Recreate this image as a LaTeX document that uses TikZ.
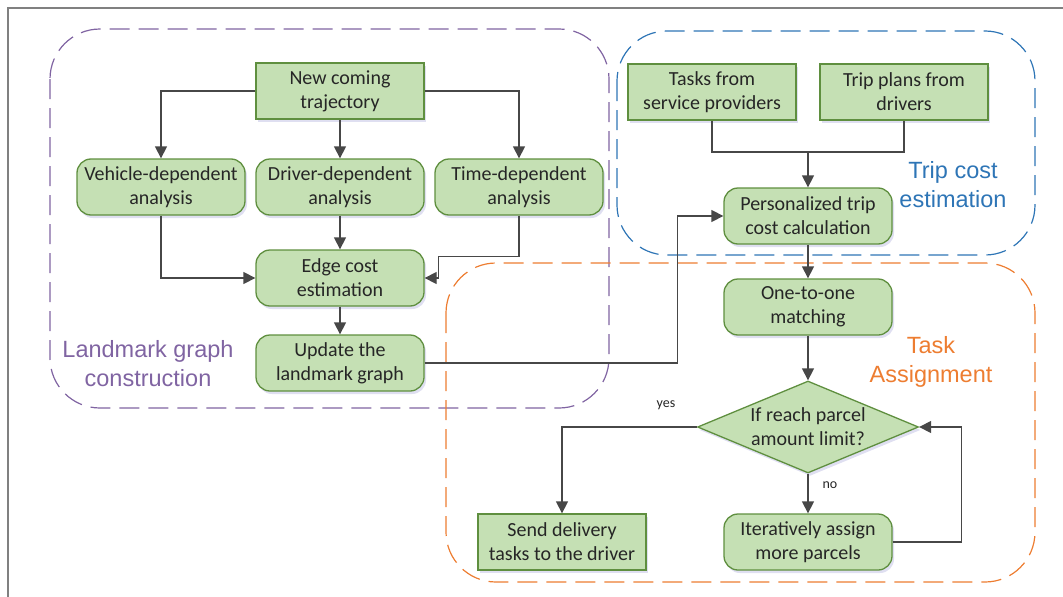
\documentclass[tikz,border=0pt]{standalone}
\usepackage{fontspec}
\setmainfont{Carlito}
\newfontfamily\grpfont{Liberation Sans}
\usepackage{tikz}
\usetikzlibrary{arrows.meta,shapes.geometric,shadows}
\definecolor{boxfill}{HTML}{C5E0B4}
\definecolor{boxline}{HTML}{5F8F3F}
\definecolor{arrgray}{HTML}{474747}
\definecolor{grppurple}{HTML}{8064A2}
\definecolor{grpblue}{HTML}{2E75B6}
\definecolor{grporange}{HTML}{ED7D31}

\begin{document}
\begin{tikzpicture}[
  x=1pt,y=-1pt,
  font=\fontsize{20}{24}\selectfont,
  shade/.style={drop shadow={shadow xshift=2pt,shadow yshift=-3pt,opacity=0.18,fill=blue!40!gray}},
  sqbox/.style={draw=boxline,line width=1.3pt,fill=boxfill,minimum width=168pt,minimum height=56pt,align=center,inner sep=2pt,text=black!85,shade},
  rbox/.style={sqbox,rounded corners=14pt},
  decide/.style={diamond,draw=boxline,line width=1.3pt,fill=boxfill,aspect=2.4,minimum width=221pt,minimum height=92pt,inner sep=0pt,align=center,text=black!85,shade},
  group/.style={dash pattern=on 20pt off 9pt,line width=1.2pt,rounded corners=50pt},
  grplabel/.style={font=\grpfont\fontsize{23.5}{29}\selectfont,align=center},
  small/.style={font=\fontsize{14}{16}\selectfont,text=black!85},
  arr/.style={-{Triangle[length=12pt,width=12pt]},draw=arrgray,line width=1.3pt},
  line/.style={draw=arrgray,line width=1.3pt}
]
\useasboundingbox (0,0) rectangle (1063,597);
\draw[gray,line width=2pt] (8,597) -- (8,8) -- (1063,8);

% groups
\draw[group,grppurple] (50,29) rectangle (609,408);
\draw[group,grpblue] (617,31) rectangle (1035,255);
\draw[group,grporange] (446,263) rectangle (1035,582);
\node[grplabel,text=grppurple] (lgc) at (148,364) {Landmark graph\\construction};
\node[grplabel,text=grpblue] (tce) at (953,185) {Trip cost\\estimation};
\node[grplabel,text=grporange] (tas) at (931,362) {Task\\Assignment};

% landmark graph
\node[sqbox] (traj) at (340,91) {New coming\\trajectory};
\node[rbox] (veh) at (161,187) {Vehicle-dependent\\analysis};
\node[rbox] (drv) at (340,187) {Driver-dependent\\analysis};
\node[rbox] (time) at (519,187) {Time-dependent\\analysis};
\node[rbox] (edge) at (340,278) {Edge cost\\estimation};
\node[rbox] (upd) at (340,363) {Update the\\landmark graph};

\draw[arr] (traj.west) -| (veh.north);
\draw[arr] (traj) -- (drv);
\draw[arr] (traj.east) -| (time.north);
\draw[arr] (veh.south) |- (edge.west);
\draw[arr] (drv) -- (edge);
\draw[arr] (time.south) -- ++(0,41) -| ([xshift=14pt]edge.east) -- (edge.east);
\draw[arr] (edge) -- (upd);

% trip cost
\node[sqbox] (tasks) at (712,92) {Tasks from\\service providers};
\node[sqbox] (plans) at (904,92) {Trip plans from\\drivers};
\node[rbox] (pers) at (808,216) {Personalized trip\\cost calculation};
\coordinate (join) at (808,152);
\draw[line] (tasks.south) |- (join) -| (plans.south);
\draw[arr] (join) -- (pers);
\draw[arr] (upd.east) -- ++(253,0) |- (pers.west);

% task assignment
\node[rbox] (match) at (808,307) {One-to-one\\matching};
\node[decide] (dec) at (808,427) {If reach parcel\\amount limit?};
\node[sqbox] (send) at (562,542) {Send delivery\\tasks to the driver};
\node[rbox] (iter) at (808,542) {Iteratively assign\\more parcels};
\node[small] (yes) at (666,405) {yes};
\node[small] (no) at (830,485) {no};

\draw[arr] (pers) -- (match);
\draw[arr] (match) -- (dec);
\draw[arr] (dec.west) -| (send.north);
\draw[arr] (dec) -- (iter);
\draw[arr] (iter.east) -- ++(69,0) |- (dec.east);

\end{tikzpicture}
\end{document}
